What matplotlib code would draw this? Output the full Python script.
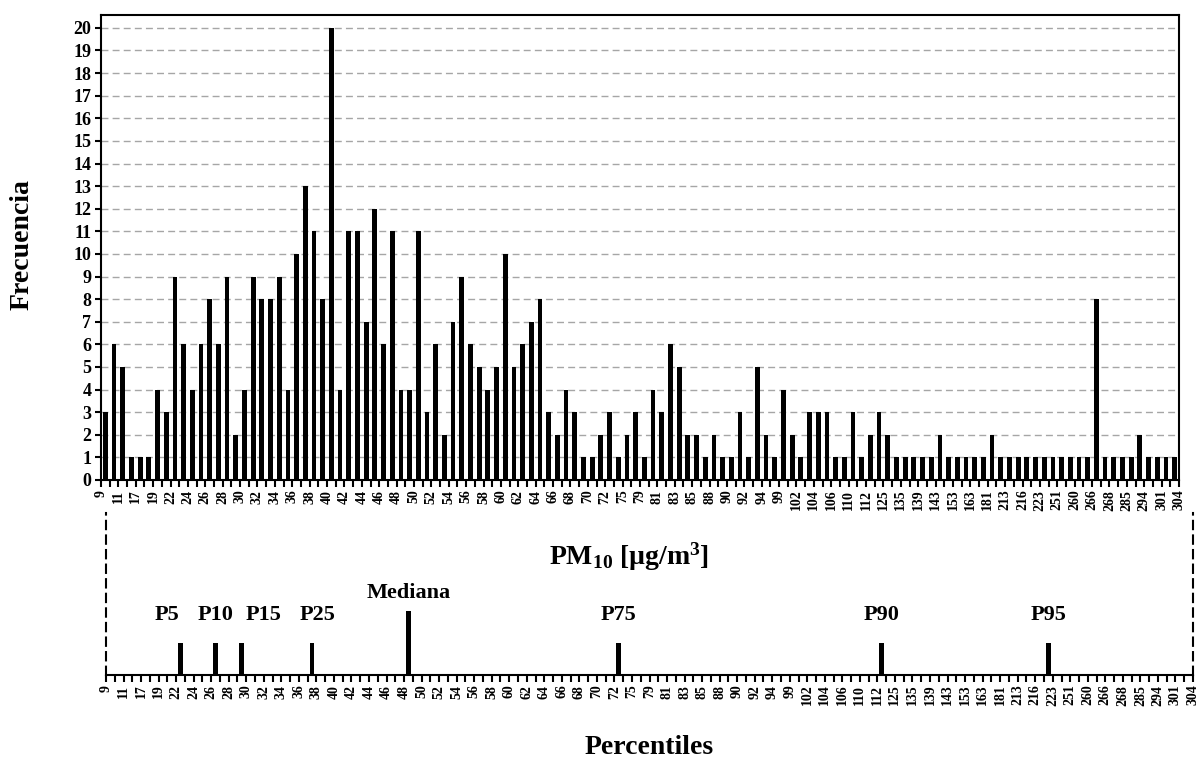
import numpy as np
import matplotlib
matplotlib.use("Agg")
import matplotlib.pyplot as plt

plt.rcParams["font.family"] = ["Liberation Serif", "DejaVu Serif"]
plt.rcParams["font.weight"] = "bold"
plt.rcParams["mathtext.fontset"] = "custom"
plt.rcParams["mathtext.rm"] = "Liberation Serif:bold"
plt.rcParams["mathtext.bf"] = "Liberation Serif:bold"
plt.rcParams["mathtext.it"] = "Liberation Serif:bold:italic"

# Frequency of each PM10 value (one bar per distinct value)
counts = [3, 6, 5, 1, 1, 1, 4, 3, 9, 6, 4, 6, 8, 6, 9, 2, 4, 9, 8, 8, 9, 4,
          10, 13, 11, 8, 20, 4, 11, 11, 7, 12, 6, 11, 4, 4, 11, 3, 6, 2, 7, 9,
          6, 5, 4, 5, 10, 5, 6, 7, 8, 3, 2, 4, 3, 1, 1, 2, 3, 1, 2, 3, 1, 4,
          3, 6, 5, 2, 2, 1, 2, 1, 1, 3, 1, 5, 2, 1, 4, 2, 1, 3, 3, 3, 1, 1,
          3, 1, 2, 3, 2, 1, 1, 1, 1, 1, 2, 1, 1, 1, 1, 1, 2, 1, 1, 1, 1, 1,
          1, 1, 1, 1, 1, 1, 8, 1, 1, 1, 1, 2, 1, 1, 1, 1]

# Tick labels shown (every second boundary)
tick_labels = ["9", "11", "17", "19", "22", "24", "26", "28", "30", "32", "34",
               "36", "38", "40", "42", "44", "46", "48", "50", "52", "54", "56",
               "58", "60", "62", "64", "66", "68", "70", "72", "75", "79", "81",
               "83", "85", "88", "90", "92", "94", "99", "102", "104", "106",
               "110", "112", "125", "135", "139", "143", "153", "163", "181",
               "213", "216", "223", "251", "260", "266", "268", "285", "294",
               "301", "304"]

# Percentiles: category index, bar height, label
perc_names = ["P5", "P10", "P15", "P25", "Mediana", "P75", "P90", "P95"]
perc_idx = [8, 12, 15, 23, 34, 58, 88, 107]
perc_height = [1, 1, 1, 1, 2, 1, 1, 1]
# label placement relative to the bar (categories, bar heights)
label_dx = [-1.6, 0.0, 2.5, 0.6, 0.0, 0.0, 0.0, 0.0]
label_pad = [0.55, 0.55, 0.55, 0.55, 0.25, 0.55, 0.55, 0.55]

W, H = 1203, 761
n = len(counts)
x = np.arange(n) + 0.5

fig = plt.figure(figsize=(W / 100, H / 100), dpi=100)

# ---- top histogram ----
ax = fig.add_axes([101 / W, 1 - 480 / H, 1078 / W, 465 / H])
ax.bar(x, counts, width=0.55, color="black", zorder=3)
ax.set_xlim(0, n)
ax.set_ylim(0, 20.57)
ax.set_yticks(range(0, 21))
ax.yaxis.grid(True, linestyle=(0, (5, 3)), color="#a6a6a6", lw=1, zorder=0)
ax.set_xticks(np.arange(0, n + 1, 2))
ax.set_xticklabels(tick_labels, rotation=90, fontsize=10, fontweight="bold")
ax.set_xticks(np.arange(0, n + 1), minor=True)
ax.tick_params(axis="x", which="both", length=5, width=1.5, direction="out", pad=2)
ax.tick_params(axis="y", length=4, width=1.5, labelsize=13, pad=3)
for lab in ax.get_yticklabels():
    lab.set_fontweight("bold")
for s in ax.spines.values():
    s.set_linewidth(1.5)

fig.text(22 / W, 1 - 245 / H, "Frecuencia", rotation=90, ha="center",
         va="center", fontsize=20, fontweight="bold")
fig.text(629 / W, 1 - 557 / H, r"PM$_{\mathbf{10}}$ [µg/m$^{\mathbf{3}}$]",
         ha="center", va="center", fontsize=20, fontweight="bold")

# ---- bottom percentile strip ----
ax2 = fig.add_axes([106 / W, 1 - 675 / H, 1087 / W, 162 / H])
px = np.array(perc_idx) + 0.5
ax2.bar(px, perc_height, width=0.55, color="black")
for xi, h, name, dx, pad in zip(px, perc_height, perc_names, label_dx, label_pad):
    ax2.text(xi + dx, h + pad, name, ha="center", va="bottom", fontsize=16,
             fontweight="bold")
ax2.set_xlim(0, n)
ax2.set_ylim(0, 5.06)
ax2.set_yticks([])
ax2.set_xticks(np.arange(0, n + 1, 2))
ax2.set_xticklabels(tick_labels, rotation=90, fontsize=10, fontweight="bold")
ax2.set_xticks(np.arange(0, n + 1), minor=True)
ax2.tick_params(axis="x", which="both", length=5, width=1.5, direction="out", pad=2)
ax2.spines["top"].set_visible(False)
ax2.spines["bottom"].set_linewidth(1.5)
for side in ["left", "right"]:
    ax2.spines[side].set_linestyle((0, (4, 3)))
    ax2.spines[side].set_linewidth(1.5)

fig.text(649 / W, 1 - 747 / H, "Percentiles", ha="center", va="center",
         fontsize=20, fontweight="bold")

fig.savefig("out.png", dpi=100)
